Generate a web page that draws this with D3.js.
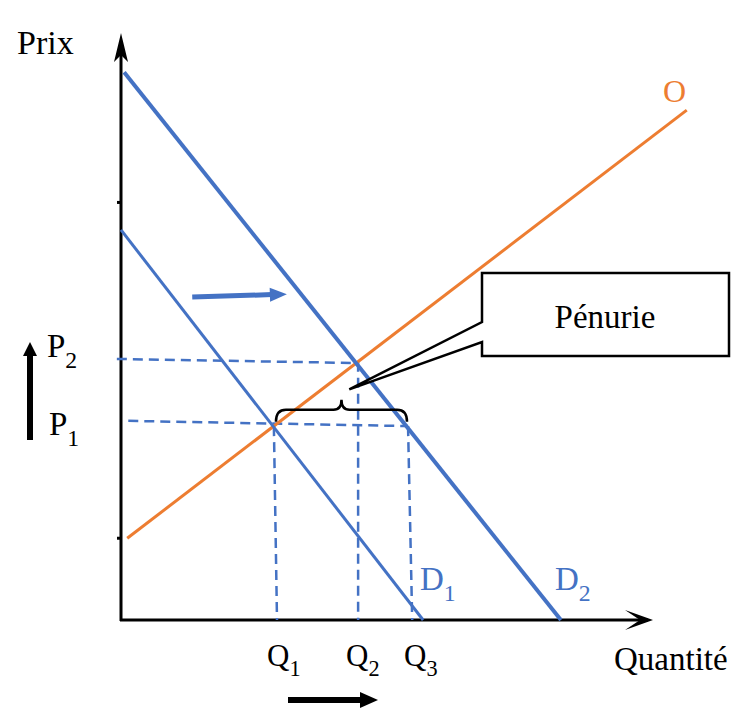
<!DOCTYPE html>
<html>
<head>
<meta charset="utf-8">
<script src="https://cdn.jsdelivr.net/npm/d3@7/dist/d3.min.js"></script>
<style>
  body { margin: 0; background: #fff; }
  text { font-family: "Liberation Serif", "DejaVu Serif", serif; }
</style>
</head>
<body>
<script>
// ---- data (quantity, price), both on a 0..100 scale ----
var demandD1 = [[0, 66.8], [58.1, 0]];
var demandD2 = [[0.6, 93.8], [84.6, 0]];
var supplyO  = [[1.2, 14.0], [108.8, 87.3]];

// dashed guides
var priceGuides = [
  { name: "P2", pts: [[-0.8, 44.7], [45.6, 44.0]] },
  { name: "P1", pts: [[1.4, 34.1], [55.2, 33.2]] }
];
var qtyGuides = [
  { name: "Q1", pts: [[29.4, 33.2], [30.0, 0]] },
  { name: "Q2", pts: [[45.6, 44.2], [45.6, 0]] },
  { name: "Q3", pts: [[55.2, 33.2], [56.0, 0]] }
];
var shiftArrow = [[13.7, 55.3], [31.9, 55.8]];
var braceSpan = [29.8, 55.0], braceLevel = 36.0;
var calloutTip = [43.9, 39.5];
var calloutText = "Pénurie";
var axisTitles = ["Prix", "Quantité"];

var width = 743, height = 708;
var blue = "#4472c4", orange = "#ed7d31";

var x = d3.scaleLinear().domain([0, 100]).range([121, 641]);
var y = d3.scaleLinear().domain([0, 100]).range([620, 36]);

var svg = d3.select("body").append("svg")
    .attr("width", width)
    .attr("height", height);

var line = d3.line()
    .x(function(d) { return x(d[0]); })
    .y(function(d) { return y(d[1]); });

// ---- axes ----
var x0 = x(0), y0 = y(0);
svg.append("line").attr("x1", x0).attr("y1", y0 + 1).attr("x2", x0).attr("y2", 45)
    .attr("stroke", "#000").attr("stroke-width", 3);
svg.append("path")
    .attr("d", "M" + x0 + ",33 L" + (x0 + 7) + ",62 L" + x0 + ",55 L" + (x0 - 7) + ",62 Z")
    .attr("fill", "#000");
svg.append("line").attr("x1", x0 - 1).attr("y1", y0).attr("x2", 648).attr("y2", y0)
    .attr("stroke", "#000").attr("stroke-width", 3);
svg.append("path")
    .attr("d", "M653," + y0 + " L625," + (y0 - 10) + " L640," + y0 + " L625," + (y0 + 10) + " Z")
    .attr("fill", "#000");
// small marks on the price axis
[14.0, 71.5].forEach(function(p) {
  svg.append("line").attr("x1", x0 - 4).attr("x2", x0).attr("y1", y(p)).attr("y2", y(p))
      .attr("stroke", "#000").attr("stroke-width", 3);
});

// ---- dashed guides ----
priceGuides.concat(qtyGuides).forEach(function(g) {
  svg.append("path").attr("d", line(g.pts))
      .attr("fill", "none").attr("stroke", blue)
      .attr("stroke-width", 2.5).attr("stroke-dasharray", "10,6");
});

// ---- curves ----
svg.append("path").attr("d", line(supplyO))
    .attr("fill", "none").attr("stroke", orange).attr("stroke-width", 3);
svg.append("path").attr("d", line(demandD1))
    .attr("fill", "none").attr("stroke", blue).attr("stroke-width", 3);
svg.append("path").attr("d", line(demandD2))
    .attr("fill", "none").attr("stroke", blue).attr("stroke-width", 4);

// shift arrow
var ax0 = x(shiftArrow[0][0]), ay0 = y(shiftArrow[0][1]),
    ax1 = x(shiftArrow[1][0]), ay1 = y(shiftArrow[1][1]);
var ang = Math.atan2(ay1 - ay0, ax1 - ax0);
svg.append("line").attr("x1", ax0).attr("y1", ay0)
    .attr("x2", ax1 - 15 * Math.cos(ang)).attr("y2", ay1 - 15 * Math.sin(ang))
    .attr("stroke", blue).attr("stroke-width", 5);
svg.append("path")
    .attr("d", "M0,0 L-17,-7 L-17,7 Z")
    .attr("transform", "translate(" + ax1 + "," + ay1 + ") rotate(" + (ang * 180 / Math.PI) + ")")
    .attr("fill", blue);

// ---- brace ----
var bl = x(braceSpan[0]), br = x(braceSpan[1]), bm = (bl + br) / 2, by = y(braceLevel);
svg.append("path")
    .attr("d", "M" + bl + "," + (by + 12) +
      " Q" + bl + "," + by + " " + (bl + 10) + "," + by +
      " L" + (bm - 8) + "," + by +
      " Q" + bm + "," + by + " " + bm + "," + (by - 10) +
      " Q" + bm + "," + by + " " + (bm + 8) + "," + by +
      " L" + (br - 10) + "," + by +
      " Q" + br + "," + by + " " + br + "," + (by + 12))
    .attr("fill", "none").attr("stroke", "#000").attr("stroke-width", 2.5);

// ---- callout ----
var tx = x(calloutTip[0]), ty = y(calloutTip[1]);
svg.append("path")
    .attr("d", "M482,273 L729,273 L729,356 L482,356 L482,342 L" + tx + "," + ty + " L482,322 Z")
    .attr("fill", "#fff").attr("stroke", "#000").attr("stroke-width", 2.5)
    .attr("stroke-linejoin", "miter");
svg.append("text").attr("x", 605).attr("y", 328).attr("text-anchor", "middle")
    .attr("font-size", 33).text(calloutText);

// ---- labels ----
function label(txt, sub, px, py, color, size) {
  var t = svg.append("text").attr("x", px).attr("y", py)
      .attr("font-size", size).attr("fill", color);
  t.append("tspan").text(txt);
  if (sub) t.append("tspan").attr("font-size", size * 0.72).attr("dy", size * 0.33).text(sub);
}
label(axisTitles[0], null, 17, 54, "#000", 34);
label(axisTitles[1], null, 614, 670, "#000", 33);
label("O", null, 663, 102, orange, 32);
label("D", "1", 420, 590, blue, 33);
label("D", "2", 555, 590, blue, 33);
label("P", "2", 47, 357, "#000", 33);
label("P", "1", 49, 435, "#000", 33);
label("Q", "1", 267, 666, "#000", 31);
label("Q", "2", 346, 666, "#000", 31);
label("Q", "3", 404, 666, "#000", 31);

// black direction arrows
svg.append("line").attr("x1", 30).attr("y1", 440).attr("x2", 30).attr("y2", 354)
    .attr("stroke", "#000").attr("stroke-width", 6);
svg.append("path").attr("d", "M30,342 L37,356 L23,356 Z").attr("fill", "#000");
svg.append("line").attr("x1", 288).attr("y1", 700).attr("x2", 362).attr("y2", 700)
    .attr("stroke", "#000").attr("stroke-width", 6);
svg.append("path").attr("d", "M378,700 L360,692 L360,708 Z").attr("fill", "#000");
</script>
</body>
</html>
